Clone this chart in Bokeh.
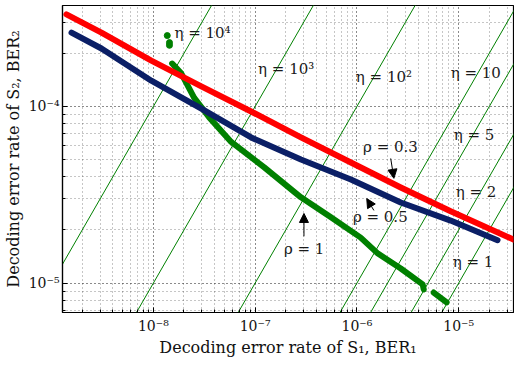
import numpy as np
from bokeh.plotting import figure
from bokeh.models import FixedTicker, Range1d, Arrow, NormalHead, ColumnDataSource
from bokeh.embed import file_html
from bokeh.resources import INLINE
from bokeh.core.properties import value

FONT = "DejaVu Serif"

# ---------------- data ----------------
# rho = 0.3 (red)
rho03_x = [1.40e-9, 3.09e-9, 9.55e-9, 2.96e-8, 9.14e-8, 2.82e-7, 8.73e-7, 2.70e-6, 8.35e-6, 3.50e-5]
rho03_y = [3.32e-4, 2.62e-4, 1.82e-4, 1.30e-4, 9.37e-5, 6.68e-5, 4.82e-5, 3.48e-5, 2.55e-5, 1.76e-5]
# rho = 0.5 (navy)
rho05_x = [1.57e-9, 3.09e-9, 9.55e-9, 2.96e-8, 9.14e-8, 2.82e-7, 8.73e-7, 2.70e-6, 8.35e-6, 2.41e-5]
rho05_y = [2.62e-4, 2.13e-4, 1.40e-4, 9.74e-5, 6.68e-5, 5.01e-5, 3.86e-5, 2.86e-5, 2.26e-5, 1.75e-5]
# rho = 1 (green), isolated points + two curve pieces
rho1_pts_x = [1.37e-8, 1.44e-8, 1.44e-8]
rho1_pts_y = [2.52e-4, 2.30e-4, 2.22e-4]
rho1_a_x = [1.53e-8, 1.88e-8, 2.52e-8, 3.54e-8, 5.82e-8, 1.23e-7, 2.82e-7, 5.56e-7, 1.09e-6, 1.61e-6, 2.70e-6, 4.43e-6, 4.54e-6]
rho1_a_y = [1.75e-4, 1.54e-4, 1.12e-4, 8.67e-5, 6.30e-5, 4.52e-5, 3.06e-5, 2.36e-5, 1.81e-5, 1.47e-5, 1.21e-5, 9.84e-6, 9.21e-6]
rho1_b_x = [5.69e-6, 7.62e-6]
rho1_b_y = [8.85e-6, 7.78e-6]

# eta reference lines: BER2 = eta * BER1
eta_values = [1e4, 1e3, 1e2, 10, 5, 2, 1]
eta_line_x = [1e-10, 1e-3]

eta_labels = ["η = 10⁴", "η = 10³", "η = 10²", "η = 10", "η = 5", "η = 2", "η = 1"]
eta_label_x = [1.61e-8, 1.07e-7, 9.77e-7, 8.35e-6, 8.94e-6, 9.35e-6, 8.73e-6]
eta_label_y = [2.59e-4, 1.64e-4, 1.46e-4, 1.54e-4, 6.86e-5, 3.26e-5, 1.31e-5]

rho_labels = ["ρ = 0.3", "ρ = 0.5", "ρ = 1"]
rho_label_x = [1.15e-6, 9.14e-7, 1.92e-7]
rho_label_y = [5.86e-5, 2.36e-5, 1.57e-5]
arrow_x0 = [2.15e-6, 1.47e-6, 3.02e-7]
arrow_y0 = [5.08e-5, 2.58e-5, 1.84e-5]
arrow_x1 = [2.31e-6, 1.25e-6, 3.02e-7]
arrow_y1 = [3.92e-5, 3.01e-5, 2.48e-5]

x_ticks = [1e-8, 1e-7, 1e-6, 1e-5]
x_tick_labels = ["10⁻⁸", "10⁻⁷", "10⁻⁶", "10⁻⁵"]
y_ticks = [1e-5, 1e-4]
y_tick_labels = ["10⁻⁵", "10⁻⁴"]

x_label = "Decoding error rate of S₁, BER₁"
y_label = "Decoding error rate of S₂, BER₂"

# ---------------- figure ----------------
p = figure(width=514, height=365, x_axis_type="log", y_axis_type="log",
           x_range=Range1d(1.28e-9, 3.46e-5), y_range=Range1d(6.82e-6, 3.73e-4),
           output_backend="svg", toolbar_location=None)
p.min_border_left = 61
p.min_border_right = 1
p.min_border_top = 5
p.min_border_bottom = 53
p.outline_line_color = "black"
p.outline_line_width = 1.2
p.background_fill_color = "white"
p.border_fill_color = "white"

x_minor = [m * 10.0 ** e for e in range(-10, -3) for m in range(1, 10)]
y_minor = [m * 10.0 ** e for e in range(-7, -2) for m in range(1, 10)]
xt = FixedTicker(ticks=x_ticks, minor_ticks=x_minor)
yt = FixedTicker(ticks=y_ticks, minor_ticks=y_minor)
p.xaxis.ticker = xt
p.yaxis.ticker = yt
p.xgrid.ticker = xt
p.ygrid.ticker = yt
p.xaxis.major_label_overrides = dict(zip(x_ticks, x_tick_labels))
p.yaxis.major_label_overrides = dict(zip(y_ticks, y_tick_labels))

for g in (p.xgrid, p.ygrid):
    g.grid_line_color = "black"
    g.grid_line_alpha = 0.6
    g.grid_line_dash = "1 3"
    g.grid_line_width = 1
    g.minor_grid_line_color = "black"
    g.minor_grid_line_alpha = 0.45
    g.minor_grid_line_dash = "1 3"
    g.minor_grid_line_width = 1

for ax in (p.xaxis, p.yaxis):
    ax.axis_line_color = "black"
    ax.axis_line_width = 1.2
    ax.major_tick_in = 5
    ax.major_tick_out = 0
    ax.minor_tick_in = 3
    ax.minor_tick_out = 0
    ax.major_tick_line_color = "black"
    ax.minor_tick_line_color = "black"
    ax.major_label_text_font = FONT
    ax.major_label_text_font_size = "14px"
    ax.major_label_text_color = "#111111"
    ax.axis_label_text_font = FONT
    ax.axis_label_text_font_size = "16px"
    ax.axis_label_text_font_style = "normal"
    ax.axis_label_text_color = "#111111"

p.xaxis.axis_label = x_label
p.yaxis.axis_label = y_label
p.xaxis.major_label_standoff = 5
p.xaxis.axis_label_standoff = 1
p.yaxis.major_label_standoff = 3
p.yaxis.axis_label_standoff = 3

# eta lines
for eta in eta_values:
    p.line(eta_line_x, [eta * xv for xv in eta_line_x], line_color="#008000", line_width=1)

# curves
p.line(rho1_a_x, rho1_a_y, line_color="#008000", line_width=6, line_cap="round", line_join="round")
p.line(rho1_b_x, rho1_b_y, line_color="#008000", line_width=6, line_cap="round", line_join="round")
p.scatter(rho1_pts_x, rho1_pts_y, size=6, fill_color="#008000", line_color="#008000")
p.line(rho05_x, rho05_y, line_color="#0b1f66", line_width=6, line_cap="round", line_join="round")
p.line(rho03_x, rho03_y, line_color="#ff0000", line_width=6, line_cap="round", line_join="round")

# labels
lab_src = ColumnDataSource(dict(x=eta_label_x + rho_label_x, y=eta_label_y + rho_label_y,
                                t=eta_labels + rho_labels))
p.text(x="x", y="y", text="t", source=lab_src, text_font=value(FONT), text_font_size="15px",
       text_align="left", text_baseline="middle", text_color="#1a1a1a")

for x0, y0, x1, y1 in zip(arrow_x0, arrow_y0, arrow_x1, arrow_y1):
    p.add_layout(Arrow(end=NormalHead(size=9, fill_color="black", line_color="black", line_width=1),
                       x_start=x0, y_start=y0, x_end=x1, y_end=y1,
                       line_color="black", line_width=1))

open("out.html", "w").write(file_html(p, INLINE))
